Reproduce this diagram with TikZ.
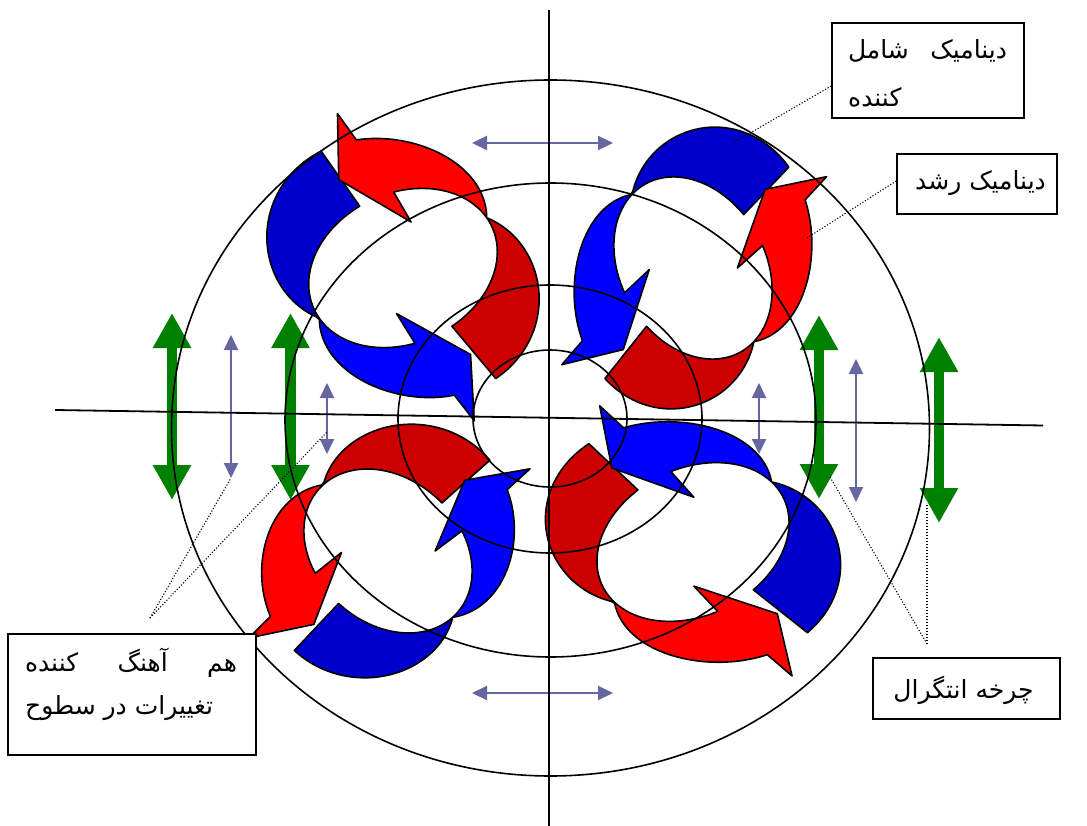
\documentclass[tikz,border=0pt]{standalone}
\usepackage{fontspec}
\newfontfamily\fa[Script=Arabic]{DejaVu Sans}
\TeXXeTstate=1
\usetikzlibrary{arrows.meta}
\definecolor{dblue}{HTML}{0000CC}
\definecolor{bblue}{HTML}{0000FF}
\definecolor{dred}{HTML}{CC0000}
\definecolor{bred}{HTML}{FF0000}
\definecolor{purp}{RGB}{102,102,160}
\definecolor{grn}{HTML}{008000}
\def\OX{\Rcx+\Rsx*rout(\x)*cos(\x+\Rrot)}
\def\OY{\Rcy+\Rsy*rout(\x)*sin(\x+\Rrot)}
\def\IX{\Rcx+\Rsx*rin(\x)*cos(\x+\Rrot)}
\def\IY{\Rcy+\Rsy*rin(\x)*sin(\x+\Rrot)}
% one curved arrow: #1 tail angle, #2 pinch angle, #3 tip angle, #4 dark colour, #5 bright colour
\newcommand\cyclearrow[5]{%
 \pgfmathsetmacro\Aob{#3+16}%
 \pgfmathsetmacro\Abo{#3+13}%
 \pgfmathsetmacro\Aib{#3+29}%
 \pgfmathsetmacro\Abi{#3+46}%
 \pgfmathsetmacro\Rbo{rout(\Abo)+30*\Rs}%
 \pgfmathsetmacro\Rtp{(rin(#3)+rout(#3))/2}%
 \pgfmathsetmacro\Rbi{rin(\Abi)-34*\Rs}%
 \coordinate (hbo) at ({\Rcx+\Rsx*\Rbo*cos(\Abo+\Rrot)},{\Rcy+\Rsy*\Rbo*sin(\Abo+\Rrot)});
 \coordinate (htp) at ({\Rcx+\Rsx*\Rtp*cos(#3+\Rrot)},{\Rcy+\Rsy*\Rtp*sin(#3+\Rrot)});
 \coordinate (hbi) at ({\Rcx+\Rsx*\Rbi*cos(\Abi+\Rrot)},{\Rcy+\Rsy*\Rbi*sin(\Abi+\Rrot)});
 \fill[#4] plot[domain=#1:#2,samples=40] ({\OX},{\OY}) -- plot[domain=#2:#1,samples=40] ({\IX},{\IY}) -- cycle;
 \fill[#5] plot[domain=#2:\Aob,samples=40] ({\OX},{\OY}) -- (hbo) -- (htp) -- (hbi) -- plot[domain=\Aib:#2,samples=40] ({\IX},{\IY}) -- cycle;
 \draw[arrowline] plot[domain=#1:\Aob,samples=80] ({\OX},{\OY}) -- (hbo) -- (htp) -- (hbi) -- plot[domain=\Aib:#1,samples=80] ({\IX},{\IY}) -- cycle;
}
% a ring of two arrows: centre, rotation, scale, colours (x/y squash set in \Rsx, \Rsy)
\newcommand\cyclering[8]{%
 \def\Rcx{#1}\def\Rcy{#2}\def\Rrot{#3}\def\Rs{#4}%
 \cyclearrow{235}{149}{52}{#5}{#6}%
 \cyclearrow{50}{-31}{-126}{#7}{#8}%
}
\begin{document}
\begin{tikzpicture}[x=1pt,y=-1pt,
  declare function={rin(\q)=\Rs*73.5/sqrt((0.75*cos(\q+25))^2+(0.98*sin(\q+25))^2);
    rout(\q)=rin(\q)+\Rs*66*abs(sin(\q+31))*(1+0.15*sin(2*(\q+31)));},
  arrowline/.style={draw=black,line width=1.6pt,line join=round},
  ringline/.style={draw=black,line width=1.6pt},
  axisline/.style={draw=black,line width=1.8pt},
  garrow/.style={draw=grn,line width=10.5pt,{Triangle[length=35pt,width=36pt]}-{Triangle[length=35pt,width=36pt]}},
  parrow/.style={draw=purp,line width=2.2pt,{Triangle[length=15pt,width=14pt]}-{Triangle[length=15pt,width=14pt]}},
  dotline/.style={draw=black,line width=1.1pt,dash pattern=on 1.1pt off 1.9pt},
  lblbox/.style={draw=black,fill=white,line width=1.6pt,inner sep=0pt},
  fatext/.style={font=\fa\fontsize{25}{30}\selectfont,inner sep=0pt}]
\fill[white] (0,0) rectangle (1087,826);
\useasboundingbox (0,0) rectangle (1087,826);

% four cycles of curved arrows
\def\Rsx{1}\def\Rsy{1}
\cyclering{403}{268}{0}{1}{dblue}{bblue}{dred}{bred}
\def\Rsx{0.95}\def\Rsy{1}
\cyclering{693}{268}{80}{1}{dblue}{bblue}{dred}{bred}
\def\Rsx{1.01}\def\Rsy{0.9}
\cyclering{388}{551}{80}{1}{dred}{bred}{dblue}{bblue}
\def\Rsx{1.02}\def\Rsy{0.93}
\cyclering{693}{542}{-9}{1.03}{dred}{bred}{dblue}{bblue}

% green double arrows
\coordinate (g1a) at (172,313); \coordinate (g1b) at (172,500);
\coordinate (g2a) at (290.5,313); \coordinate (g2b) at (290.5,500);
\coordinate (g3a) at (819,315); \coordinate (g3b) at (819,499);
\coordinate (g4a) at (939,337); \coordinate (g4b) at (939,523);
\draw[garrow] (g1a) -- (g1b);
\draw[garrow] (g2a) -- (g2b);
\draw[garrow] (g3a) -- (g3b);
\draw[garrow] (g4a) -- (g4b);

% purple double arrows
\coordinate (p1a) at (472,143); \coordinate (p1b) at (613,143);
\coordinate (p2a) at (472,693); \coordinate (p2b) at (613,693);
\coordinate (p3a) at (231,335); \coordinate (p3b) at (231,478);
\coordinate (p4a) at (327,383); \coordinate (p4b) at (327,454);
\coordinate (p5a) at (759,383); \coordinate (p5b) at (759,454);
\coordinate (p6a) at (856,359); \coordinate (p6b) at (856,502);
\draw[parrow] (p1a) -- (p1b);
\draw[parrow] (p2a) -- (p2b);
\draw[parrow] (p3a) -- (p3b);
\draw[parrow] (p4a) -- (p4b);
\draw[parrow] (p5a) -- (p5b);
\draw[parrow] (p6a) -- (p6b);

% concentric ellipses
\draw[ringline] (550.5,428) ellipse [x radius=379, y radius=348];
\draw[ringline] (550.5,420) ellipse [x radius=265.5, y radius=237];
\draw[ringline] (550,419) ellipse [x radius=152, y radius=134];
\draw[ringline] (550,418.5) ellipse [x radius=77, y radius=68.5];

% axes
\coordinate (vt) at (549,10); \coordinate (vb) at (549,826);
\coordinate (hl) at (55,410); \coordinate (hr) at (1043,425.5);
\draw[axisline] (vt) -- (vb);
\draw[axisline] (hl) -- (hr);

% label boxes
\node[lblbox,minimum width=192pt,minimum height=95pt] (b1) at (928,70.5) {};
\node[lblbox,minimum width=160pt,minimum height=60pt] (b2) at (977,184) {};
\node[lblbox,minimum width=248pt,minimum height=121pt] (b3) at (132,694.5) {};
\node[lblbox,minimum width=187pt,minimum height=61pt] (b4) at (966.5,688.5) {};

\node[fatext] (t1a) at (927.5,51) {\hbox to 159pt{\beginR دینامیک\hfill شامل\endR}};
\node[fatext,anchor=west] (t1b) at (848,97) {\beginR کننده\endR};
\node[fatext] (t2) at (980.5,183) {\beginR دینامیک رشد\endR};
\node[fatext] (t3a) at (131,663) {\hbox to 212pt{\beginR هم\hfill آهنگ\hfill کننده\endR}};
\node[fatext,anchor=west] (t3b) at (25,708) {\beginR تغییرات در سطوح\endR};
\node[fatext] (t4) at (963.5,690) {\beginR چرخه انتگرال\endR};

% dotted leader lines
\coordinate (d1) at (733,143);
\coordinate (d2) at (807,238);
\coordinate (c3) at (150,618);
\coordinate (c4) at (927,644);
\coordinate (e4) at (830,477);
\coordinate (e5) at (927,503);
\coordinate (e6) at (327,432);
\draw[dotline] ([yshift=-15.5pt]b1.west) -- (d1);
\draw[dotline] ([yshift=3pt]b2.west) -- (d2);
\draw[dotline] (c3) -- (p3b);
\draw[dotline] (c3) -- (e6);
\draw[dotline] (c4) -- (e4);
\draw[dotline] (c4) -- (e5);
\end{tikzpicture}
\end{document}
